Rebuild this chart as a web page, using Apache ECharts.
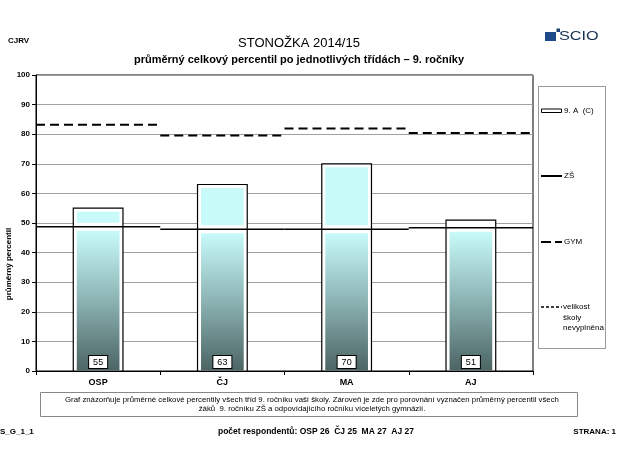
<!DOCTYPE html>
<html><head><meta charset="utf-8">
<script src="https://cdn.jsdelivr.net/npm/echarts@6/dist/echarts.min.js"></script>
<style>html,body{margin:0;padding:0;background:#fff}#c{width:633px;height:464px}</style>
</head><body><div id="c"></div>
<script>
const categories = ['OSP', 'ČJ', 'MA', 'AJ'];
const classValues = [55, 63, 70, 51];
const zsValues = [48.7, 47.9, 47.9, 48.4];
const gymValues = [83.2, 79.6, 81.9, 80.4];
const respondents = [26, 25, 27, 27];

const F = '"Liberation Sans", Arial, sans-serif';
const chart = echarts.init(document.getElementById('c'));

function makeGrad() {
  return new echarts.graphic.LinearGradient(0, 0, 0, 1, [
    { offset: 0, color: '#c8fafa' },
    { offset: 0.45, color: '#92baba' },
    { offset: 1, color: '#4c6464' }
  ]);
}

function renderBar(params, api) {
  const i = api.value(0), v = api.value(1), z = api.value(2);
  const bw = api.size([1, 0])[0] * 0.4;
  const c0 = api.coord([i, 0]), cv = api.coord([i, v]), cz = api.coord([i, z]);
  const x = c0[0] - bw / 2;
  const inset = 3.5;
  const children = [{
    type: 'rect', shape: { x: x, y: cv[1], width: bw, height: c0[1] - cv[1] },
    style: { fill: '#fff', stroke: '#000', lineWidth: 1.2 }
  }];
  const lowTop = Math.max(cz[1] + 4, cv[1] + inset);
  children.push({
    type: 'rect', shape: { x: x + inset, y: lowTop, width: bw - 2 * inset, height: c0[1] - lowTop - 0.5 },
    style: { fill: makeGrad() }
  });
  const upTop = cv[1] + inset, upBot = cz[1] - 4;
  if (upBot - upTop > 1) {
    children.push({
      type: 'rect', shape: { x: x + inset, y: upTop, width: bw - 2 * inset, height: upBot - upTop },
      style: { fill: '#c8fafa' }
    });
  }
  children.push({
    type: 'text',
    style: {
      text: String(v), x: c0[0], y: c0[1] - 3, align: 'center', verticalAlign: 'bottom',
      font: '9px ' + F, fill: '#000', backgroundColor: '#fff', borderColor: '#000', borderWidth: 1,
      padding: [2, 4, 1, 4]
    }
  });
  return { type: 'group', children: children };
}

function renderSeg(dash, width) {
  return function (params, api) {
    const i = api.value(0), z = api.value(1);
    const w = api.size([1, 0])[0];
    const c = api.coord([i, z]);
    return {
      type: 'line',
      shape: { x1: c[0] - w / 2, y1: c[1], x2: c[0] + w / 2, y2: c[1] },
      style: { stroke: '#000', lineWidth: width, lineDash: dash }
    };
  };
}

const respText = 'počet respondentů: ' + categories.map((c, i) => c + ' ' + respondents[i]).join('  ');

const option = {
  backgroundColor: '#fff',
  animation: false,
  grid: { left: 36, right: 100, top: 75, bottom: 93, show: true, borderColor: '#000', borderWidth: 1, backgroundColor: 'transparent' },
  xAxis: {
    type: 'category', data: categories, boundaryGap: true,
    axisLine: { lineStyle: { color: '#000', width: 1 } },
    axisTick: { show: true, length: 4, lineStyle: { color: '#000' } },
    axisLabel: { color: '#000', fontFamily: F, fontWeight: 'bold', fontSize: 9, margin: 7 },
    splitLine: { show: false }
  },
  yAxis: {
    type: 'value', min: 0, max: 100, interval: 10,
    axisLine: { show: true, lineStyle: { color: '#000', width: 1 } },
    axisTick: { show: true, length: 4, lineStyle: { color: '#000' } },
    axisLabel: { color: '#000', fontFamily: F, fontWeight: 'bold', fontSize: 8, margin: 6 },
    splitLine: { show: true, lineStyle: { color: '#a0a0a0', width: 1 } }
  },
  series: [
    {
      type: 'custom', name: '9. A  (C)', renderItem: renderBar, clip: false, z: 2,
      encode: { x: 0, y: 1 },
      data: categories.map((c, i) => [i, classValues[i], zsValues[i]])
    },
    {
      type: 'custom', name: 'ZŠ', renderItem: renderSeg(null, 1.5), clip: false, z: 3,
      encode: { x: 0, y: 1 },
      data: categories.map((c, i) => [i, zsValues[i]])
    },
    {
      type: 'custom', name: 'GYM', renderItem: renderSeg([9, 5], 2), clip: false, z: 3,
      encode: { x: 0, y: 1 },
      data: categories.map((c, i) => [i, gymValues[i]])
    }
  ],
  graphic: [
    { type: 'text', left: 8, top: 37, style: { text: 'CJRV', font: 'bold 8px ' + F, fill: '#000' } },
    { type: 'text', x: 299, y: 43, style: { text: 'STONOŽKA 2014/15', font: '13px ' + F, fill: '#000', align: 'center', verticalAlign: 'middle' } },
    { type: 'text', x: 299, y: 60, style: { text: 'průměrný celkový percentil po jednotlivých třídách – 9. ročníky', font: 'bold 11px ' + F, fill: '#000', align: 'center', verticalAlign: 'middle' } },
    // logo
    { type: 'rect', shape: { x: 545, y: 32, width: 11, height: 9 }, style: { fill: '#1c4a8a' } },
    { type: 'rect', shape: { x: 556.5, y: 28.5, width: 3.5, height: 3.5 }, style: { fill: '#1c3f78' } },
    { type: 'text', x: 559, y: 36.5, scaleX: 1.25, style: { text: 'SCIO', font: '13px ' + F, fill: '#14304e', verticalAlign: 'middle' } },
    // y name
    { type: 'text', x: 9, y: 264, rotation: Math.PI / 2, style: { text: 'průměrný percentil', font: 'bold 8px ' + F, fill: '#000', align: 'center', verticalAlign: 'middle' } },
    // legend
    { type: 'rect', shape: { x: 538.5, y: 86.5, width: 67, height: 262 }, style: { fill: '#fff', stroke: '#999', lineWidth: 1 } },
    { type: 'rect', shape: { x: 541.5, y: 109, width: 20, height: 3.5 }, style: { fill: '#fff', stroke: '#000', lineWidth: 1 } },
    { type: 'text', x: 564, y: 111, style: { text: '9. A  (C)', font: '8px ' + F, fill: '#000', verticalAlign: 'middle' } },
    { type: 'line', shape: { x1: 541, y1: 176, x2: 562, y2: 176 }, style: { stroke: '#000', lineWidth: 2 } },
    { type: 'text', x: 564, y: 176, style: { text: 'ZŠ', font: '8px ' + F, fill: '#000', verticalAlign: 'middle' } },
    { type: 'line', shape: { x1: 541, y1: 242, x2: 562, y2: 242 }, style: { stroke: '#000', lineWidth: 2, lineDash: [10, 4] } },
    { type: 'text', x: 564, y: 242, style: { text: 'GYM', font: '8px ' + F, fill: '#000', verticalAlign: 'middle' } },
    { type: 'line', shape: { x1: 541, y1: 307, x2: 562, y2: 307 }, style: { stroke: '#000', lineWidth: 1.5, lineDash: [3, 2] } },
    { type: 'text', x: 563, y: 302, style: { text: 'velikost\nškoly\nnevyplněna', font: '8px ' + F, fill: '#000', lineHeight: 10.5, verticalAlign: 'top' } },
    // bottom note
    { type: 'rect', shape: { x: 40.5, y: 392.5, width: 537, height: 24 }, style: { fill: '#fff', stroke: '#888', lineWidth: 1 } },
    { type: 'text', x: 312, y: 399.5, style: { text: 'Graf znázorňuje průměrné celkové percentily všech tříd 9. ročníku vaší školy. Zároveň je zde pro porovnání vyznačen průměrný percentil všech', font: '7.8px ' + F, fill: '#000', align: 'center', verticalAlign: 'middle' } },
    { type: 'text', x: 312, y: 409, style: { text: 'žáků  9. ročníku ZŠ a odpovídajícího ročníku víceletých gymnázií.', font: '7.8px ' + F, fill: '#000', align: 'center', verticalAlign: 'middle' } },
    // footer
    { type: 'text', x: 0, y: 432, style: { text: 'S_G_1_1', font: 'bold 8px ' + F, fill: '#000', verticalAlign: 'middle' } },
    { type: 'text', x: 316, y: 432, style: { text: respText, font: 'bold 8.5px ' + F, fill: '#000', align: 'center', verticalAlign: 'middle' } },
    { type: 'text', x: 616, y: 432, style: { text: 'STRANA: 1', font: 'bold 8px ' + F, fill: '#000', align: 'right', verticalAlign: 'middle' } }
  ]
};
chart.setOption(option);
</script>
</body></html>
